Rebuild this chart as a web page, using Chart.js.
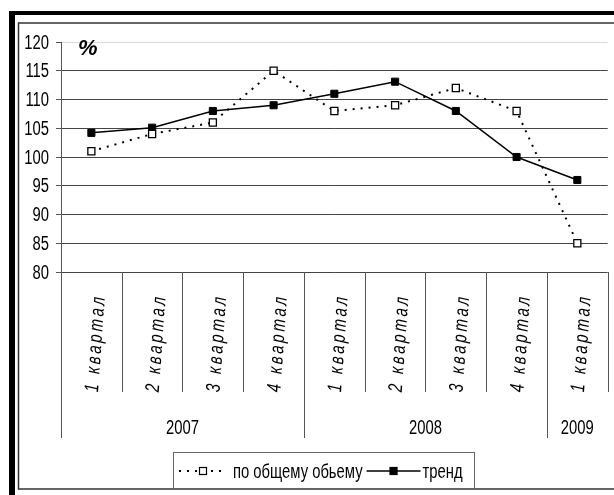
<!DOCTYPE html>
<html>
<head>
<meta charset="utf-8">
<script src="https://cdn.jsdelivr.net/npm/chart.js@4.4.0/dist/chart.umd.min.js"></script>
<style>
html, body { margin: 0; padding: 0; background: #fff; }
canvas { display: block; }
</style>
</head>
<body>
<canvas id="chart" width="614" height="495"></canvas>
<script>
// data
const quarters = ['1 квартал', '2 квартал', '3 квартал', '4 квартал', '1 квартал', '2 квартал', '3 квартал', '4 квартал', '1 квартал'];
const years = ['2007', '2008', '2009'];
const yearSpans = [4, 4, 1];
const totalVolume = [101, 104, 106, 115, 108, 109, 112, 108, 85];
const trend = [104.2, 105.1, 108, 109, 111, 113.1, 108, 100, 96];
const seriesNames = ['по общему обьему', 'тренд'];
const yMin = 80, yMax = 120, yStep = 5;
const unitLabel = '%';

const FONT = "'Liberation Sans', Arial, sans-serif";
const NARROW = 0.74; // squeeze to look like Arial Narrow

// draw text squeezed horizontally (no narrow font installed)
function narrowText(c, text, x, y, sx) {
    c.save();
    c.translate(x, y);
    c.scale(sx, 1);
    c.fillText(text, 0, 0);
    c.restore();
}

const decor = {
    id: 'decor',
    beforeDraw(chart) {
        const c = chart.ctx;
        c.save();
        c.fillStyle = '#000';
        c.fillRect(9, 11, 6, 484);
        c.fillRect(9, 11, 605, 4);
        c.strokeStyle = '#333';
        c.lineWidth = 1.5;
        c.beginPath();
        c.moveTo(614, 23); c.lineTo(18.5, 23); c.lineTo(18.5, 489); c.lineTo(614, 489);
        c.stroke();
        c.restore();
    },
    afterDraw(chart) {
        const c = chart.ctx;
        const x = chart.scales.x;
        const y = chart.scales.y;
        const bottom = chart.chartArea.bottom;

        const starts = [];
        let acc = 0;
        yearSpans.forEach(n => { starts.push(acc); acc += n; });

        c.save();
        c.fillStyle = '#000';

        // y tick labels
        c.font = '20px ' + FONT;
        c.textAlign = 'right';
        c.textBaseline = 'middle';
        y.ticks.forEach(t => {
            narrowText(c, String(t.value), 49, y.getPixelForValue(t.value) + 1, NARROW);
        });

        // separators under the axis
        c.strokeStyle = '#555';
        c.lineWidth = 1;
        for (let i = 0; i <= quarters.length; i++) {
            const px = Math.round(x.getPixelForValue(i - 0.5)) + 0.5;
            const yEnd = starts.includes(i) ? 438 : 392;
            c.beginPath();
            c.moveTo(px, bottom);
            c.lineTo(px, yEnd);
            c.stroke();
        }

        // quarter labels, rotated
        c.font = 'italic 20px ' + FONT;
        c.letterSpacing = '4px';
        c.textAlign = 'right';
        c.textBaseline = 'middle';
        quarters.forEach((q, i) => {
            const cx = x.getPixelForValue(i);
            c.save();
            c.translate(cx + 8, 294);
            c.rotate(-86 * Math.PI / 180);
            c.scale(NARROW, 1);
            c.fillText(q, 0, 0);
            c.restore();
        });
        c.letterSpacing = '0px';

        // year labels
        c.font = '20px ' + FONT;
        c.textAlign = 'center';
        years.forEach((yr, k) => {
            const a = x.getPixelForValue(starts[k] - 0.5);
            const b = x.getPixelForValue(starts[k] + yearSpans[k] - 0.5);
            narrowText(c, yr, (a + b) / 2, 428, NARROW);
        });

        // unit label
        c.font = 'bold italic 22px ' + FONT;
        c.textAlign = 'left';
        c.fillText(unitLabel, 78, 49);

        // legend box
        c.strokeStyle = '#666';
        c.lineWidth = 1;
        c.strokeRect(173.5, 452.5, 301, 36);
        const ly = 471;
        c.font = '20px ' + FONT;
        c.textAlign = 'left';
        let lx = 179;
        chart.data.datasets.forEach((ds, k) => {
            const len = k === 0 ? 48 : 54;
            c.beginPath();
            c.strokeStyle = '#000';
            c.lineWidth = ds.borderWidth;
            c.setLineDash(ds.borderDash || []);
            c.moveTo(lx, ly);
            c.lineTo(lx + len, ly);
            c.stroke();
            c.setLineDash([]);
            const mx = lx + len / 2;
            c.fillStyle = ds.pointBackgroundColor;
            c.fillRect(mx - 3.5, ly - 3.5, 7, 7);
            c.lineWidth = 1.2;
            c.strokeRect(mx - 3.5, ly - 3.5, 7, 7);
            c.fillStyle = '#000';
            const tx = lx + len + (k === 0 ? 6 : 2);
            narrowText(c, ds.label, tx, ly + 1, NARROW);
            lx = tx + c.measureText(ds.label).width * NARROW + 4;
        });
        c.restore();
    }
};

new Chart(document.getElementById('chart'), {
    type: 'line',
    data: {
        labels: quarters,
        datasets: [{
            label: seriesNames[0],
            data: totalVolume,
            borderColor: '#000',
            borderWidth: 2,
            borderDash: [2, 6],
            pointStyle: 'rect',
            pointRadius: 5,
            pointBackgroundColor: '#fff',
            pointBorderColor: '#000',
            pointBorderWidth: 1.3,
            tension: 0
        }, {
            label: seriesNames[1],
            data: trend,
            borderColor: '#000',
            borderWidth: 1.5,
            pointStyle: 'rect',
            pointRadius: 5,
            pointBackgroundColor: '#000',
            pointBorderColor: '#000',
            pointBorderWidth: 1,
            tension: 0
        }]
    },
    options: {
        responsive: false,
        animation: false,
        devicePixelRatio: 1,
        layout: { padding: { top: 42, left: 0, right: 0, bottom: 0 } },
        plugins: {
            legend: { display: false },
            tooltip: { enabled: false }
        },
        scales: {
            x: {
                offset: true,
                ticks: { display: false },
                grid: { display: false },
                border: { display: false },
                afterFit: s => { s.height = 223; }
            },
            y: {
                min: yMin,
                max: yMax,
                ticks: { stepSize: yStep, display: false },
                grid: {
                    color: ctx => ctx.tick && ctx.tick.value === yMax ? '#d9d9d9' : '#444',
                    tickColor: '#555',
                    tickLength: 5
                },
                border: { display: true, color: '#555' },
                afterFit: s => { s.width = 61; }
            }
        }
    },
    plugins: [decor]
});
</script>
</body>
</html>
